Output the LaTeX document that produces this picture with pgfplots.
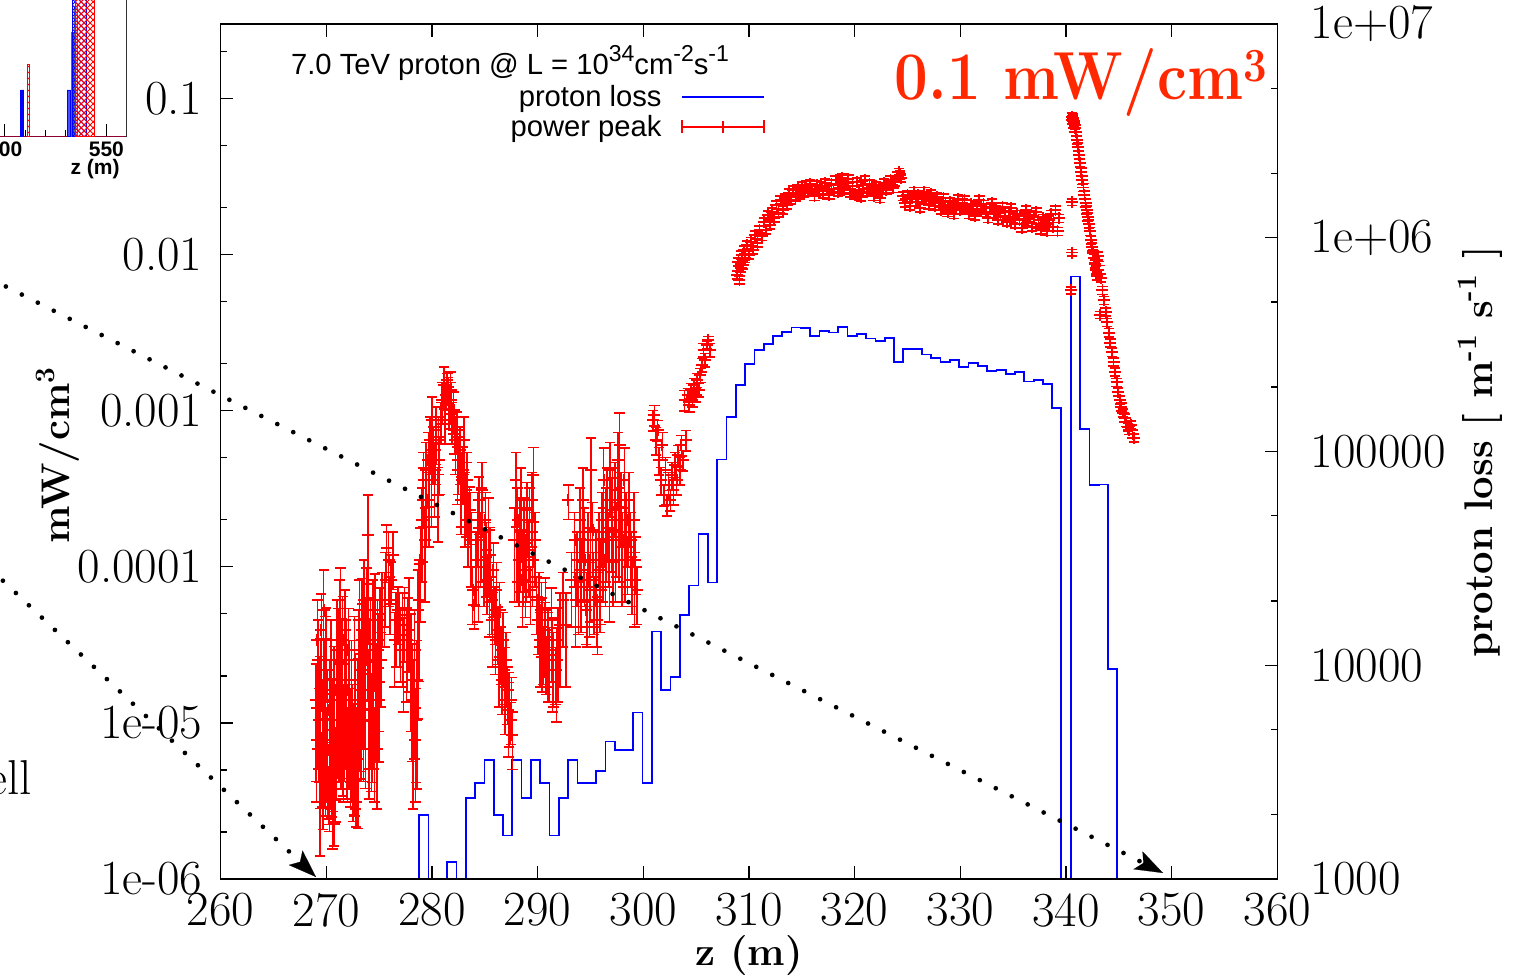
\documentclass[border=0pt]{standalone}
\usepackage{fontspec}
\usepackage{pgfplots}
\usepackage{pgfplotstable}
\pgfplotsset{compat=1.18}
\usetikzlibrary{arrows.meta,patterns}
\newfontfamily\sansfont{Liberation Sans}
\definecolor{mwred}{RGB}{255,40,0}
\definecolor{insetmaroon}{RGB}{140,0,50}
\newcommand\ticksize{\fontsize{24.5pt}{28pt}\selectfont}
\newcommand\labfont{\bfseries\fontsize{20pt}{24pt}\selectfont}
\newcommand\legfont{\sansfont\fontsize{14.6pt}{17pt}\selectfont}
\newcommand\gsup[1]{\raisebox{0.45em}{\fontsize{11.5pt}{13pt}\selectfont #1}}

\pgfplotstableread{
z p r
269.0 1.40e-5 0.7
269.08 7.77e-6 0.6
269.15 3.40e-5 0.8
269.22 2.53e-5 0.8
269.3 1.04e-5 0.6
269.38 1.40e-5 0.9
269.45 1.88e-5 0.85
269.52 3.94e-5 0.7
269.6 5.78e-6 0.5
269.68 1.04e-5 0.8
269.75 5.29e-5 0.8
269.82 1.88e-5 0.85
269.9 2.53e-5 0.9
269.98 3.40e-5 0.6
270.05 7.77e-6 0.6
270.12 1.21e-5 0.8
270.2 3.72e-6 0.4
270.28 6.70e-6 0.7
270.35 1.40e-5 0.8
270.42 2.53e-5 0.8
270.5 4.99e-6 0.5
270.58 1.04e-5 0.85
270.65 9.0e-6 0.7
270.72 1.63e-5 0.9
270.8 3.21e-6 0.3
270.88 5.78e-6 0.6
270.95 1.63e-5 0.8
271.02 3.40e-5 0.8
271.1 2.93e-5 0.85
271.18 1.40e-5 0.7
271.25 4.56e-5 0.8
271.32 6.13e-5 0.6
271.4 1.88e-5 0.8
271.48 2.53e-5 0.85
271.55 3.40e-5 0.9
271.62 1.04e-5 0.7
271.7 1.40e-5 0.7
271.78 3.94e-5 0.8
271.85 2.53e-5 0.8
271.92 1.63e-5 0.8
272.0 7.77e-6 0.6
272.08 2.93e-5 0.85
272.15 1.88e-5 0.8
272.22 1.04e-5 0.6
272.3 5.78e-6 0.5
272.38 1.88e-5 0.8
272.45 1.04e-5 0.7
272.52 7.77e-6 0.7
272.6 4.31e-6 0.4
272.68 2.53e-5 0.9
272.75 1.40e-5 0.8
272.82 4.31e-6 0.5
272.9 7.77e-6 0.6
272.98 1.40e-5 0.85
273.05 2.93e-5 0.8
273.12 4.56e-5 0.8
273.2 1.63e-5 0.7
273.28 2.18e-5 0.8
273.35 4.56e-5 0.85
273.42 3.40e-5 0.7
273.5 1.40e-5 0.7
273.58 6.13e-5 0.8
273.65 3.40e-5 0.8
273.72 2.53e-5 0.85
273.8 6.13e-5 0.6
273.88 4.56e-5 0.7
273.95 1.60e-4 0.8
274.02 1.63e-5 0.8
274.1 2.53e-5 0.8
274.18 3.40e-5 0.85
274.25 1.21e-5 0.7
274.32 1.04e-5 0.6
274.4 4.56e-5 0.8
274.48 2.53e-5 0.8
274.55 7.77e-6 0.6
274.62 5.29e-5 0.7
274.7 1.88e-5 0.7
274.78 1.40e-5 0.8
274.85 3.40e-5 0.8
274.92 2.93e-5 0.7
275.0 1.40e-5 0.6
275.08 4.56e-5 0.6
275.15 2.53e-5 0.5
275.25 6.13e-5 0.5
275.5 6.13e-5 0.5
275.6 8.23e-5 0.5
275.7 1.32e-4 0.4
275.9 1.11e-4 0.5
276.0 6.13e-5 0.4
276.1 8.23e-5 0.3
276.3 1.19e-4 0.4
276.45 3.40e-5 0.5
276.6 4.56e-5 0.5
276.8 5.29e-5 0.4
276.9 4.56e-5 0.5
277.0 3.66e-5 0.5
277.2 4.24e-5 0.6
277.3 2.93e-5 0.6
277.4 4.91e-5 0.5
277.6 3.40e-5 0.6
277.7 3.94e-5 0.6
277.8 5.29e-5 0.6
278.0 2.93e-5 0.7
278.1 1.88e-5 0.7
278.2 1.40e-5 0.8
278.35 2.93e-5 0.8
278.42 7.77e-6 0.6
278.5 1.04e-5 0.6
278.58 1.88e-5 0.8
278.65 5.29e-5 0.8
278.75 6.13e-5 0.7
278.9 1.11e-4 0.6
279.05 2.00e-4 0.6
279.12 2.68e-4 0.6
279.2 3.60e-4 0.5
279.35 1.49e-4 0.6
279.42 4.17e-4 0.5
279.5 2.68e-4 0.5
279.65 4.83e-4 0.5
279.72 2.68e-4 0.5
279.8 6.49e-4 0.4
279.95 3.60e-4 0.5
280.02 8.71e-4 0.4
280.1 5.60e-4 0.4
280.25 4.17e-4 0.5
280.32 5.60e-4 0.4
280.4 7.52e-4 0.4
280.55 2.88e-4 0.5
280.62 6.49e-4 0.4
280.7 4.83e-4 0.4
280.85 8.71e-4 0.3
280.92 1.17e-3 0.3
281.0 1.17e-3 0.3
281.15 1.46e-3 0.3
281.22 8.71e-4 0.3
281.3 1.26e-3 0.2
281.45 1.57e-3 0.1
281.52 1.36e-3 0.2
281.6 1.09e-3 0.3
281.75 1.36e-3 0.3
281.82 1.17e-3 0.3
281.9 8.71e-4 0.3
282.05 1.01e-3 0.3
282.12 7.52e-4 0.3
282.2 6.49e-4 0.4
282.35 7.52e-4 0.3
282.42 4.17e-4 0.4
282.5 4.83e-4 0.4
282.65 5.60e-4 0.4
282.72 2.68e-4 0.4
282.8 3.60e-4 0.5
282.95 4.17e-4 0.4
283.02 6.49e-4 0.4
283.1 2.68e-4 0.5
283.25 3.10e-4 0.5
283.32 3.60e-4 0.5
283.4 2.00e-4 0.5
283.55 2.31e-4 0.4
283.62 2.00e-4 0.5
283.7 1.49e-4 0.5
283.85 7.10e-5 0.4
284.0 5.69e-5 0.3
284.15 1.11e-4 0.5
284.3 2.00e-4 0.5
284.38 1.11e-4 0.6
284.45 2.68e-4 0.4
284.6 1.49e-4 0.5
284.68 2.00e-4 0.6
284.75 3.10e-4 0.5
284.9 1.11e-4 0.5
285.05 2.00e-4 0.5
285.12 1.28e-4 0.5
285.2 8.23e-5 0.4
285.35 1.72e-4 0.6
285.42 7.10e-5 0.5
285.5 1.19e-4 0.5
285.65 6.13e-5 0.4
285.72 4.56e-5 0.5
285.8 9.5e-5 0.5
285.95 5.29e-5 0.4
286.02 3.40e-5 0.4
286.1 7.10e-5 0.5
286.25 3.94e-5 0.4
286.32 2.53e-5 0.5
286.4 5.29e-5 0.5
286.55 2.93e-5 0.4
286.62 1.88e-5 0.4
286.7 3.40e-5 0.5
286.85 2.18e-5 0.4
286.92 1.40e-5 0.4
287.0 2.53e-5 0.5
287.15 1.63e-5 0.4
287.22 1.21e-5 0.5
287.3 1.40e-5 0.5
287.45 1.04e-5 0.3
287.52 1.40e-5 0.4
287.6 8.37e-6 0.4
287.8 1.49e-4 0.6
287.95 3.60e-4 0.5
288.02 1.49e-4 0.6
288.1 2.00e-4 0.6
288.25 1.11e-4 0.5
288.32 1.72e-4 0.6
288.4 2.68e-4 0.6
288.55 8.23e-5 0.5
288.62 1.11e-4 0.5
288.7 1.72e-4 0.6
288.85 9.5e-5 0.5
288.92 1.49e-4 0.6
289.0 2.31e-4 0.5
289.15 1.28e-4 0.5
289.22 2.00e-4 0.6
289.3 7.10e-5 0.4
289.45 2.68e-4 0.5
289.52 1.11e-4 0.5
289.6 3.87e-4 0.5
289.75 1.49e-4 0.5
289.9 6.13e-5 0.4
290.05 4.56e-5 0.4
290.12 6.13e-5 0.5
290.2 3.40e-5 0.5
290.35 5.29e-5 0.5
290.42 3.94e-5 0.6
290.5 2.93e-5 0.4
290.65 3.94e-5 0.5
290.72 5.29e-5 0.6
290.8 2.53e-5 0.4
290.95 3.40e-5 0.5
291.0 3.40e-5 0.6
291.1 2.72e-5 0.5
291.3 4.56e-5 0.6
291.4 2.93e-5 0.6
291.5 2.53e-5 0.5
291.7 2.18e-5 0.4
291.8 2.53e-5 0.6
291.9 3.40e-5 0.6
292.1 4.24e-5 0.6
292.4 6.13e-5 0.5
292.7 4.24e-5 0.6
292.9 2.68e-4 0.25
293.2 8.23e-5 0.5
293.5 1.49e-4 0.5
293.6 6.13e-5 0.5
293.7 1.11e-4 0.5
293.85 6.13e-5 0.4
294.0 2.00e-4 0.6
294.08 9.5e-5 0.6
294.15 8.23e-5 0.5
294.3 2.68e-4 0.6
294.38 1.49e-4 0.6
294.45 1.11e-4 0.5
294.6 5.29e-5 0.4
294.68 6.13e-5 0.5
294.75 1.49e-4 0.5
294.9 7.10e-5 0.5
294.98 1.11e-4 0.6
295.05 4.17e-4 0.6
295.2 1.72e-4 0.5
295.28 8.23e-5 0.5
295.35 6.13e-5 0.4
295.5 1.11e-4 0.5
295.58 6.13e-5 0.5
295.65 4.56e-5 0.4
295.8 1.49e-4 0.5
295.88 9.5e-5 0.6
295.95 7.10e-5 0.4
296.1 2.00e-4 0.5
296.18 1.49e-4 0.6
296.25 3.60e-4 0.6
296.4 1.11e-4 0.5
296.48 2.00e-4 0.6
296.55 2.68e-4 0.6
296.7 1.49e-4 0.5
296.78 1.11e-4 0.6
296.85 4.17e-4 0.5
297.0 2.31e-4 0.6
297.08 2.68e-4 0.6
297.15 1.11e-4 0.5
297.3 3.10e-4 0.5
297.38 1.49e-4 0.6
297.45 1.72e-4 0.5
297.6 4.83e-4 0.5
297.68 2.00e-4 0.6
297.75 6.03e-4 0.6
297.9 2.68e-4 0.5
297.98 1.11e-4 0.5
298.05 1.49e-4 0.5
298.2 3.60e-4 0.6
298.28 1.49e-4 0.6
298.35 2.00e-4 0.5
298.5 1.11e-4 0.4
298.58 2.00e-4 0.5
298.65 2.68e-4 0.5
298.8 1.49e-4 0.5
298.88 1.11e-4 0.5
298.95 8.23e-5 0.4
299.1 2.00e-4 0.5
299.18 8.23e-5 0.5
299.25 1.11e-4 0.4
299.4 7.10e-5 0.4
300.9 8.71e-4 0.15
301.05 9.39e-4 0.15
301.2 6.49e-4 0.2
301.35 7.52e-4 0.15
301.5 4.83e-4 0.2
301.65 3.60e-4 0.2
301.8 6.03e-4 0.2
301.95 2.88e-4 0.15
302.1 4.17e-4 0.2
302.25 2.49e-4 0.15
302.4 3.34e-4 0.2
302.55 2.68e-4 0.15
302.7 3.87e-4 0.2
302.85 3.10e-4 0.2
303.0 4.49e-4 0.2
303.15 3.60e-4 0.2
303.3 5.20e-4 0.15
303.45 4.17e-4 0.2
303.6 6.03e-4 0.15
303.75 4.83e-4 0.15
303.9 1.17e-3 0.15
304.05 6.49e-4 0.15
304.2 1.26e-3 0.1
304.35 1.09e-3 0.1
304.5 1.36e-3 0.1
304.65 1.17e-3 0.1
304.8 1.46e-3 0.1
304.95 1.26e-3 0.1
305.1 1.57e-3 0.1
305.25 1.36e-3 0.1
305.4 1.69e-3 0.1
305.55 1.96e-3 0.1
305.7 2.45e-3 0.1
305.85 2.11e-3 0.1
306.0 2.64e-3 0.05
306.15 2.84e-3 0.05
306.3 2.45e-3 0.1
308.9 0.00740 0.06
309.0 0.0090 0.06
309.1 0.00688 0.06
309.2 0.0082 0.06
309.3 0.00994 0.06
309.4 0.00858 0.06
309.5 0.0107 0.06
309.6 0.0095 0.06
309.8 0.01152 0.06
310.0 0.00994 0.06
310.2 0.0121 0.06
310.4 0.0107 0.06
310.6 0.01335 0.06
310.8 0.0119 0.06
311.0 0.01437 0.06
311.2 0.0131 0.06
311.4 0.0162 0.06
311.6 0.01437 0.06
311.8 0.01793 0.06
312.0 0.01547 0.06
312.2 0.0187 0.06
312.4 0.0172 0.06
312.6 0.02078 0.06
312.8 0.0185 0.06
313.0 0.02237 0.06
313.2 0.0193 0.06
313.4 0.0230 0.06
313.6 0.02078 0.06
313.8 0.0249 0.06
314.0 0.02237 0.06
314.2 0.02593 0.06
314.4 0.0234 0.06
314.6 0.0266 0.06
314.8 0.02408 0.06
315.0 0.0275 0.06
315.2 0.0249 0.06
315.4 0.02791 0.06
315.6 0.0253 0.06
315.8 0.0283 0.06
316.0 0.02593 0.06
316.2 0.0237 0.06
316.4 0.02791 0.06
316.6 0.0255 0.06
316.8 0.0275 0.06
317.0 0.0245 0.06
317.2 0.0287 0.06
317.4 0.02593 0.06
317.6 0.02408 0.06
317.8 0.0283 0.06
318.0 0.0263 0.06
318.2 0.03004 0.06
318.4 0.0253 0.06
318.6 0.02791 0.06
318.8 0.0310 0.06
319.0 0.02593 0.06
319.2 0.0287 0.06
319.4 0.0305 0.06
319.6 0.0249 0.06
319.8 0.0275 0.06
320.0 0.02408 0.06
320.2 0.0292 0.06
320.4 0.02593 0.06
320.6 0.0234 0.06
320.8 0.02791 0.06
321.0 0.03004 0.06
321.2 0.0253 0.06
321.4 0.0283 0.06
321.6 0.02593 0.06
321.8 0.0237 0.06
322.0 0.0275 0.06
322.2 0.0253 0.06
322.4 0.0230 0.06
322.6 0.0266 0.06
322.8 0.0287 0.06
323.0 0.02593 0.06
323.2 0.02791 0.06
323.4 0.03004 0.06
323.6 0.0266 0.06
323.8 0.0292 0.06
324.0 0.0319 0.06
324.2 0.0337 0.06
324.3 0.03235 0.06
324.4 0.0310 0.06
324.6 0.0237 0.06
324.8 0.0214 0.06
325.0 0.02408 0.06
325.2 0.0205 0.06
325.4 0.0230 0.06
325.6 0.0253 0.06
325.8 0.0218 0.06
326.0 0.02408 0.06
326.2 0.0199 0.06
326.4 0.0230 0.06
326.6 0.0253 0.06
326.8 0.02237 0.06
327.0 0.02078 0.06
327.2 0.0245 0.06
327.4 0.0228 0.06
327.6 0.0205 0.06
327.8 0.0234 0.06
328.0 0.0214 0.06
328.2 0.01930 0.06
328.4 0.0230 0.06
328.6 0.02078 0.06
328.8 0.0187 0.06
329.0 0.0218 0.06
329.2 0.0199 0.06
329.4 0.0181 0.06
329.6 0.0210 0.06
329.8 0.0228 0.06
330.0 0.01930 0.06
330.2 0.0214 0.06
330.4 0.02237 0.06
330.6 0.0199 0.06
330.8 0.0181 0.06
331.0 0.0210 0.06
331.2 0.01930 0.06
331.4 0.0177 0.06
331.6 0.0205 0.06
331.8 0.02237 0.06
332.0 0.01930 0.06
332.2 0.0210 0.06
332.4 0.0187 0.06
332.6 0.0171 0.06
332.8 0.0199 0.06
333.0 0.0214 0.06
333.2 0.0181 0.06
333.4 0.01930 0.06
333.6 0.01666 0.06
333.8 0.0185 0.06
334.0 0.0202 0.06
334.2 0.0177 0.06
334.4 0.0162 0.06
334.6 0.0187 0.06
334.8 0.0199 0.06
335.0 0.0171 0.06
335.2 0.0157 0.06
335.4 0.0181 0.06
335.6 0.01666 0.06
335.8 0.0148 0.06
336.0 0.0177 0.06
336.2 0.01930 0.06
336.4 0.0162 0.06
336.6 0.01793 0.06
336.8 0.0151 0.06
337.0 0.0168 0.06
337.2 0.0187 0.06
337.4 0.0157 0.06
337.6 0.01437 0.06
337.8 0.0171 0.06
338.0 0.01547 0.06
338.2 0.0141 0.06
338.4 0.01666 0.06
338.6 0.0181 0.06
338.8 0.0151 0.06
339.0 0.01930 0.06
339.2 0.0141 0.06
339.35 0.0171 0.06
340.50 0.0059 0.05
340.56 0.0103 0.05
340.56 0.0217 0.05
340.55 0.0761 0.06
340.60 0.0728 0.06
340.65 0.0750 0.06
340.70 0.0686 0.06
340.75 0.0707 0.06
340.80 0.0647 0.06
340.85 0.0676 0.06
340.95 0.0610 0.06
341.05 0.0542 0.06
341.15 0.0489 0.06
341.25 0.0435 0.06
341.35 0.0387 0.06
341.45 0.0339 0.06
341.55 0.0300 0.06
341.65 0.0269 0.06
341.75 0.0241 0.06
341.85 0.0214 0.06
341.95 0.0193 0.06
342.05 0.0174 0.06
342.15 0.0157 0.06
342.25 0.0141 0.06
342.35 0.0124 0.06
342.45 0.0112 0.06
342.55 0.0102 0.06
342.65 0.0095 0.06
342.75 0.0087 0.06
342.85 0.0080 0.06
342.95 0.0073 0.06
343.00 0.0098 0.06
343.15 0.0085 0.06
343.20 0.0041 0.05
343.30 0.0071 0.06
343.45 0.0059 0.06
343.60 0.0051 0.06
343.75 0.0043 0.06
343.90 0.00368 0.06
344.05 0.00316 0.06
344.20 0.00272 0.06
344.35 0.00237 0.06
344.50 0.00205 0.06
344.65 0.00177 0.06
344.80 0.00152 0.06
344.95 0.00132 0.06
345.10 0.00117 0.06
345.25 0.00106 0.06
345.40 0.00097 0.06
345.55 0.00090 0.06
345.70 0.00084 0.06
345.85 0.00078 0.06
346.00 0.00075 0.06
346.15 0.00081 0.06
346.30 0.00071 0.06
346.45 0.00067 0.06
}\powerpeak

\begin{document}
\begin{tikzpicture}
\path[use as bounding box] (-110.35pt,-49pt) rectangle (650.65pt,439.5pt);
\clip (-110.35pt,-49pt) rectangle (650.65pt,439.5pt);

% cropped inset of a neighbouring plot
\begin{axis}[at={(-47pt,371.15pt)}, anchor=south east, scale only axis,
  width=71.15pt, height=100pt, xmin=490, xmax=560, ymin=0, ymax=200,
  axis x line*=bottom, axis y line*=right,
  x axis line style={draw=insetmaroon, line width=0.7pt, -},
  y axis line style={draw=black!80, line width=0.5pt, -},
  ytick=\empty, xtick={500,550}, xticklabels={500,550},
  minor xtick={510,520,530,540}, tick align=inside,
  major tick length=6.5pt, minor tick length=3.3pt,
  every tick/.style={black, line width=0.5pt},
  xticklabel style={font=\sansfont\bfseries\fontsize{10.5pt}{12pt}\selectfont, anchor=north, inner sep=0pt, yshift=-2.5pt},
  xlabel={z (m)},
  every axis x label/.style={at={(axis description cs:1,0)}, anchor=base east, yshift=-19.15pt, font=\sansfont\bfseries\fontsize{10.5pt}{12pt}\selectfont}]
\addplot[fill=blue, draw=blue] coordinates {(507.9,0) (507.9,46.7) (509.4,46.7) (509.4,0)} \closedcycle;
\addplot[pattern=north east lines, pattern color=red, draw=red] coordinates {(511,0) (511,72.7) (512.3,72.7) (512.3,0)} \closedcycle;
\addplot[fill=blue!70, draw=blue] coordinates {(530.7,0) (530.7,46.7) (532.4,46.7) (532.4,0)} \closedcycle;
\addplot[draw=black!60] coordinates {(532.9,0) (532.9,104) (534,104) (534,0)} \closedcycle;
\addplot[draw=black!60] coordinates {(534.5,0) (534.5,130) (535.7,130) (535.7,0)} \closedcycle;
\addplot[pattern=crosshatch, pattern color=blue, draw=blue] coordinates {(533.4,0) (533.4,250) (540,250) (540,0)} \closedcycle;
\addplot[pattern=crosshatch, pattern color=red, draw=red] coordinates {(534.7,0) (534.7,250) (544.1,250) (544.1,0)} \closedcycle;
\end{axis}

% right axis: proton loss
\begin{axis}[scale only axis, width=528.3pt, height=427.5pt,
  xmin=260, xmax=360, ymode=log, ymin=1000, ymax=1e7,
  xtick=\empty, ytick pos=right, yticklabel pos=right,
  ytick={1000,10000,100000,1000000,10000000},
  yticklabels={1000,10000,100000,1e+06,1e+07},
  minor ytick={2000,5000,20000,50000,200000,500000,2000000,5000000},
  tick align=inside, major tick length=6.35pt, minor tick length=3.2pt,
  axis line style={line width=0.65pt},
  every tick/.style={black, line width=0.65pt},
  yticklabel style={font=\ticksize, anchor=west, inner sep=0pt, xshift=16.5pt},
  ylabel={proton loss [ m\textsuperscript{-1} s\textsuperscript{-1} ]},
  every axis y label/.style={at={(axis description cs:1.2032,0.4994)}, rotate=90, anchor=base, font=\labfont}]
\addplot[blue, line width=0.85pt, const plot, mark=none] coordinates {
(277.91,500) (278.79,1990) (279.67,500) (280.55,500) (281.43,1200) (282.31,500)
(283.19,2400) (284.07,2810) (284.96,3590) (285.84,1990) (286.72,1600)
(287.60,3590) (288.48,2400) (289.36,3590) (290.24,2810) (291.12,1600)
(292.00,2400) (292.89,3590) (293.77,2810) (294.65,2810) (295.53,3200)
(296.41,4400) (297.29,4000) (298.17,4000) (299.05,6000) (299.93,2810)
(300.82,14400) (301.70,7640) (302.58,8820) (303.46,17200) (304.34,23600)
(305.22,41200) (306.10,24400) (306.98,91600) (307.86,145000) (308.75,204600)
(309.63,255700) (310.51,298400) (311.39,318400) (312.27,347000) (313.15,362300)
(314.03,379600) (314.91,377000) (315.79,348200) (316.67,366500) (317.56,359800)
(318.44,382300) (319.32,348200) (320.20,354800) (321.08,337500) (321.96,329000)
(322.84,340600) (323.72,263000) (324.60,300700) (325.48,302000) (326.36,283800)
(327.24,273700) (328.13,263000) (329.01,267900) (329.89,247700) (330.77,258700)
(331.65,251300) (332.53,238800) (333.41,241400) (334.29,230600) (335.17,236200)
(336.05,212200) (336.94,216700) (337.82,206200) (338.70,160300) (339.55,500)
(340.46,657700) (341.34,127300) (342.22,69700) (343.10,70100) (343.98,9590)
(344.86,500) (345.74,500)};
\end{axis}

% left axis: power peak
\begin{axis}[scale only axis, width=528.3pt, height=427.5pt,
  xmin=260, xmax=360, ymode=log, ymin=1e-6, ymax=0.3,
  xtick={260,270,280,290,300,310,320,330,340,350,360},
  xticklabels={260,270,280,290,300,310,320,330,340,350,360},
  xtick pos=both, xticklabel pos=lower,
  ytick={1e-6,1e-5,1e-4,1e-3,1e-2,1e-1},
  yticklabels={1e-06,1e-05,0.0001,0.001,0.01,0.1},
  minor ytick={2e-6,5e-6,2e-5,5e-5,2e-4,5e-4,2e-3,5e-3,0.02,0.05,0.2},
  ytick pos=left, yticklabel pos=left,
  tick align=inside, major tick length=6.35pt, minor tick length=3.2pt,
  axis line style={line width=0.65pt},
  every tick/.style={black, line width=0.65pt},
  xticklabel style={font=\ticksize, anchor=north, inner sep=0pt, yshift=-7pt},
  yticklabel style={font=\ticksize, anchor=east, inner sep=0pt, xshift=-9pt},
  xlabel={z (m)},
  every axis x label/.style={at={(axis description cs:0.5,0)}, anchor=base, yshift=-43.5pt, font=\labfont},
  ylabel={mW/cm\textsuperscript{3}},
  every axis y label/.style={at={(axis description cs:-0.14263,0.4959)}, rotate=90, anchor=base, font=\labfont}]
\addplot[red, only marks, mark=+, mark size=3pt, mark options={line width=0.9pt},
  error bars/.cd, y dir=both, y explicit relative,
  error bar style={line width=0.75pt, red},
  error mark options={rotate=90, mark size=2.6pt, line width=0.75pt, red}]
  table[x=z, y=p, y error=r] {\powerpeak};
\end{axis}

% key
\node[anchor=base, font=\legfont, inner sep=0pt] at (144.65pt,402pt) {7.0 TeV proton @ L = 10\gsup{34}cm\gsup{-2}s\gsup{-1}};
\node[anchor=base east, font=\legfont, inner sep=0pt] at (220.65pt,386pt) {proton loss};
\node[anchor=base east, font=\legfont, inner sep=0pt] at (220.65pt,371pt) {power peak};
\draw[blue, line width=0.85pt] (230.65pt,391pt) -- (271.65pt,391pt);
\draw[red, line width=0.6pt] (230.65pt,376pt) -- (271.65pt,376pt)
  (230.65pt,372.75pt) -- (230.65pt,379.25pt) (271.65pt,372.75pt) -- (271.65pt,379.25pt)
  (251.15pt,373pt) -- (251.15pt,379pt);

% annotation
\node[anchor=base east, text=mwred, font=\bfseries\fontsize{34pt}{40pt}\selectfont, inner sep=0pt] at (523.65pt,389.5pt) {\scalebox{0.88}[1]{0.1 mW/cm\textsuperscript{3}}};

% slide decorations
\draw[line width=2.35pt, line cap=round, dash pattern=on 0pt off 8.95pt, -{Stealth[length=14pt,width=10pt,inset=3pt,line width=0.1pt]}] (-115.4pt,300.3pt) -- (471.15pt,3pt);
\draw[line width=2.35pt, line cap=round, dash pattern=on 0pt off 8.95pt, -{Stealth[length=14pt,width=10pt,inset=3pt,line width=0.1pt]}] (-115.4pt,155.3pt) -- (47.65pt,1pt);
\node[anchor=base east, font=\ticksize, inner sep=0pt] at (-94.35pt,42pt) {well};
\end{tikzpicture}
\end{document}
